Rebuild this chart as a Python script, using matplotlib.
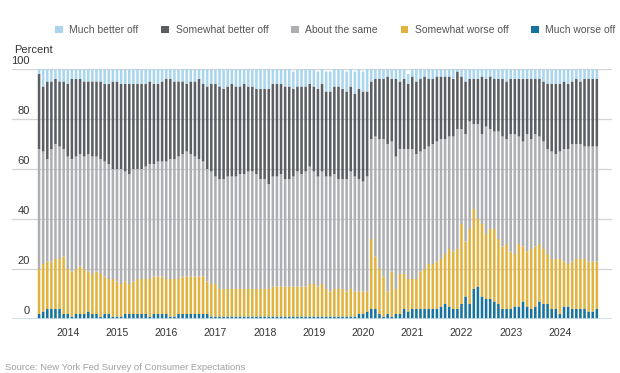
import numpy as np
import pandas as pd
import matplotlib
matplotlib.use("Agg")
import matplotlib.pyplot as plt
from matplotlib.patches import Patch

plt.rcParams['font.family'] = ['Liberation Sans', 'DejaVu Sans']

# monthly, Jun 2013 - Oct 2024 (percent of respondents)
months = pd.date_range('2013-06-01', '2024-10-01', freq='MS')

much_worse = [
    2, 3, 4, 4, 4, 4, 2,
    2, 1, 2, 2, 2, 3, 2, 2, 1, 2, 2, 1,
    1, 1, 2, 2, 2, 2, 2, 2, 1, 2, 2, 2,
    2, 1, 1, 2, 2, 2, 2, 2, 2, 2, 2, 1,
    1, 1, 1, 1, 1, 1, 1, 1, 1, 1, 1, 1,
    1, 1, 1, 1, 1, 1, 1, 1, 1, 1, 1, 1,
    1, 1, 1, 1, 1, 1, 1, 1, 1, 1, 1, 2,
    2, 3, 4, 4, 2, 1, 2, 1, 2, 2, 4, 3,
    4, 4, 4, 4, 4, 4, 4, 5, 6, 5, 4, 4,
    6, 9, 6, 12, 13, 9, 8, 8, 7, 6, 4, 4,
    4, 5, 5, 7, 5, 4, 5, 7, 6, 6, 4, 4,
    2, 5, 5, 4, 4, 4, 4, 3, 3, 4,
]
somewhat_worse = [
    18, 19, 19, 19, 20, 20, 23,
    18, 18, 18, 19, 18, 16, 16, 17, 17, 15, 14, 15,
    14, 13, 13, 12, 13, 14, 14, 14, 15, 15, 15, 15,
    14, 15, 15, 14, 15, 15, 15, 15, 15, 15, 13, 13,
    13, 11, 11, 11, 11, 11, 11, 11, 11, 11, 11, 11,
    11, 11, 12, 12, 12, 12, 12, 12, 12, 12, 12, 13,
    13, 12, 13, 11, 10, 11, 11, 11, 10, 11, 10, 9,
    9, 8, 28, 21, 18, 16, 9, 18, 10, 16, 14, 13,
    12, 12, 15, 16, 18, 18, 19, 19, 20, 23, 23, 24,
    32, 22, 30, 32, 27, 29, 26, 28, 29, 26, 25, 26,
    23, 21, 25, 22, 22, 24, 24, 23, 22, 20, 20, 20,
    22, 18, 17, 19, 20, 20, 20, 20, 20, 19,
]
about_same = [
    48, 45, 41, 45, 46, 45, 43,
    45, 45, 45, 45, 45, 47, 47, 46, 46, 46, 46, 44,
    45, 46, 44, 44, 45, 44, 44, 45, 46, 45, 46, 46,
    47, 48, 48, 49, 49, 50, 49, 48, 47, 46, 45, 45,
    43, 44, 44, 45, 45, 45, 46, 46, 47, 47, 46, 44,
    44, 42, 44, 44, 45, 43, 43, 44, 46, 45, 46, 47,
    45, 44, 45, 45, 46, 46, 44, 44, 45, 47, 46, 45,
    44, 46, 40, 48, 52, 55, 59, 52, 53, 50, 50, 52,
    52, 50, 48, 48, 47, 48, 48, 48, 46, 45, 46, 48,
    38, 43, 43, 34, 38, 36, 43, 40, 39, 43, 44, 42,
    47, 48, 43, 42, 47, 44, 45, 43, 43, 42, 43, 42,
    43, 45, 46, 47, 46, 46, 45, 46, 46, 46,
]
somewhat_better = [
    30, 26, 31, 27, 26, 26, 27,
    29, 32, 31, 30, 30, 29, 30, 30, 31, 31, 32, 35,
    35, 34, 35, 36, 34, 34, 34, 33, 33, 32, 31, 32,
    33, 32, 31, 30, 29, 27, 29, 30, 32, 31, 33, 35,
    37, 37, 36, 36, 37, 36, 35, 36, 34, 34, 34, 36,
    36, 38, 37, 37, 36, 37, 37, 35, 34, 35, 34, 33,
    34, 35, 35, 34, 34, 35, 37, 36, 35, 34, 33, 36,
    36, 34, 23, 23, 24, 24, 27, 25, 31, 27, 28, 26,
    29, 29, 29, 29, 27, 26, 26, 25, 25, 24, 23, 23,
    21, 21, 17, 18, 18, 23, 19, 21, 21, 21, 23, 23,
    22, 22, 23, 25, 22, 24, 22, 23, 24, 26, 27, 28,
    27, 27, 26, 25, 26, 25, 27, 27, 27, 27,
]
much_better = [
    2, 7, 5, 5, 4, 5, 5,
    6, 4, 4, 4, 5, 5, 5, 5, 5, 6, 6, 5,
    5, 6, 6, 6, 6, 6, 6, 6, 5, 6, 6, 5,
    4, 4, 5, 5, 5, 6, 5, 5, 4, 6, 7, 6,
    6, 7, 8, 7, 6, 7, 7, 6, 7, 7, 8, 8,
    8, 8, 6, 6, 7, 7, 8, 7, 7, 7, 7, 7,
    7, 7, 7, 8, 8, 7, 8, 8, 8, 8, 9, 8,
    8, 9, 5, 4, 4, 4, 3, 4, 4, 5, 4, 4,
    3, 5, 4, 5, 5, 4, 4, 3, 4, 4, 4, 4,
    3, 5, 4, 4, 4, 3, 4, 3, 4, 4, 4, 5,
    4, 4, 4, 4, 4, 4, 4, 4, 5, 6, 6, 6,
    6, 5, 6, 5, 4, 5, 4, 4, 4, 4,
]

series = ['Much better off', 'Somewhat better off', 'About the same',
          'Somewhat worse off', 'Much worse off']
colors = {
    'Much better off': '#a9d5ee',
    'Somewhat better off': '#5b5f63',
    'About the same': '#adafb2',
    'Somewhat worse off': '#e1b23e',
    'Much worse off': '#17729e',
}

df = pd.DataFrame({
    'Much worse off': much_worse,
    'Somewhat worse off': somewhat_worse,
    'About the same': about_same,
    'Somewhat better off': somewhat_better,
    'Much better off': much_better,
}, index=months)

fig = plt.figure(figsize=(6.2, 3.73), dpi=100)
ax = fig.add_axes([12/620, 54/373, 600/620, 250/373])

x = np.arange(len(df))
bottom = np.zeros(len(df))
for name in ['Much worse off', 'Somewhat worse off', 'About the same',
             'Somewhat better off', 'Much better off']:
    bars = ax.bar(x, df[name], bottom=bottom, width=0.62, color=colors[name],
                  linewidth=0, zorder=2)
    for b in bars:
        b.set_snap(False)
    bottom += df[name].values

ax.set_xlim(-6.6, 139.7)
ax.set_ylim(0, 100)

# grid + y labels sitting above the lines
for v in [20, 40, 60, 80, 100]:
    ax.axhline(v, color='#d4d4d4', lw=0.9, zorder=1)
ax.axhline(0, color='#c3dbe8', lw=1.2, zorder=3)
for v in [0, 20, 40, 60, 80, 100]:
    ax.text(18/600, v + 3.2, str(v), transform=ax.get_yaxis_transform(),
            ha='right', va='center', fontsize=8, color='#333333')

# year labels at January
years = list(range(2014, 2025))
for yr in years:
    pos = df.index.get_loc(pd.Timestamp(f'{yr}-01-01'))
    ax.text(pos, -5.6, str(yr), ha='center', va='center', fontsize=7.5,
            color='#333333')

ax.set_xticks([])
ax.set_yticks([])
for s in ax.spines.values():
    s.set_visible(False)

fig.text(14/620, 1 - 50/373, 'Percent', ha='left', va='center', fontsize=8,
         color='#333333')

handles = [Patch(facecolor=colors[n], edgecolor='none') for n in series]
fig.legend(handles, series, loc='center right', ncol=5, frameon=False,
           bbox_to_anchor=(1.008, 1 - 30/373), fontsize=7.5, handlelength=0.75,
           handleheight=0.75, handletextpad=0.6, columnspacing=2.2,
           labelcolor='#555555')

fig.text(5/620, 1 - 368/373, 'Source: New York Fed Survey of Consumer Expectations',
         ha='left', va='center', fontsize=6.8, color='#a0a0a0')

fig.savefig('out.png', dpi=100)
